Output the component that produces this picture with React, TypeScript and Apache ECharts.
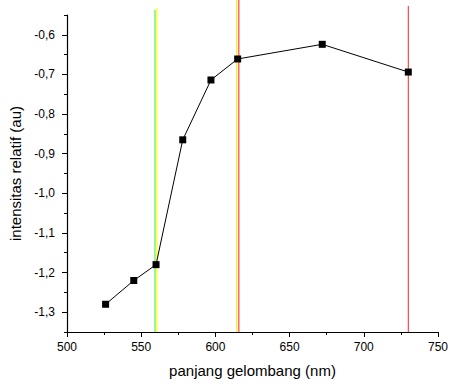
import React, { useEffect, useRef } from "react";
import * as echarts from "echarts";

const wavelengths = [526, 545, 560, 578, 597, 615, 672, 730];
const intensities = [-1.28, -1.22, -1.18, -0.865, -0.714, -0.661, -0.624, -0.694];

const xMajorTicks = [500, 550, 600, 650, 700, 750];
const xMinorTicks = [525, 575, 625, 675, 725];
const yMajorTicks = [-1.3, -1.2, -1.1, -1.0, -0.9, -0.8, -0.7, -0.6];
const yMinorTicks = [-1.35, -1.25, -1.15, -1.05, -0.95, -0.85, -0.75, -0.65, -0.55];

// vertical reference lines: [x, top y, colour]
const refLineX = [559.3, 560.6, 614.4, 615.8, 730];
const refLineTop = [-0.537, -0.532, -0.512, -0.512, -0.527];
const refLineColor = ["#44ee44", "#ffff00", "#ffee00", "#ff3333", "#ff3333"];

const X_MIN = 500, X_MAX = 750, Y_MIN = -1.35, Y_MAX = -0.55;
const FONT = "Liberation Sans, Arial, sans-serif";

export default function App() {
  const ref = useRef<HTMLDivElement>(null);
  useEffect(() => {
    if (!ref.current) return;
    const chart = echarts.init(ref.current, undefined, { renderer: "svg" });
    const fmt = (v: number) => v.toFixed(1).replace(".", ",");
    const refSeries = refLineX.map((x, i) => ({
      type: "line",
      data: [[x, Y_MIN], [x, refLineTop[i]]],
      symbol: "none",
      clip: false,
      silent: true,
      z: 1,
      lineStyle: { color: refLineColor[i], width: 1.1 },
    }));
    chart.setOption({
      animation: false,
      backgroundColor: "#ffffff",
      grid: { left: 66, right: 10, top: 15, bottom: 55 },
      xAxis: [
        {
          type: "value",
          min: X_MIN,
          max: X_MAX,
          name: "panjang gelombang (nm)",
          nameLocation: "middle",
          nameGap: 31,
          nameTextStyle: { fontFamily: FONT, fontSize: 15, color: "#000" },
          axisLine: { show: true, lineStyle: { color: "#000", width: 1.2 } },
          axisTick: { show: true, inside: false, length: 5, customValues: xMajorTicks, lineStyle: { color: "#000" } },
          axisLabel: { customValues: xMajorTicks, margin: 9, fontFamily: FONT, fontSize: 12, color: "#000" },
          splitLine: { show: false },
        },
        {
          type: "value",
          min: X_MIN,
          max: X_MAX,
          position: "bottom",
          axisLine: { show: false },
          axisTick: { show: true, inside: false, length: 3, customValues: xMinorTicks, lineStyle: { color: "#000" } },
          axisLabel: { show: false },
          splitLine: { show: false },
        },
      ],
      yAxis: [
        {
          type: "value",
          min: Y_MIN,
          max: Y_MAX,
          name: "intensitas relatif (au)",
          nameLocation: "middle",
          nameGap: 44,
          nameRotate: 90,
          nameTextStyle: { fontFamily: FONT, fontSize: 15, color: "#000" },
          axisLine: { show: true, lineStyle: { color: "#000", width: 1.2 } },
          axisTick: { show: true, inside: false, length: 5, customValues: yMajorTicks, lineStyle: { color: "#000" } },
          axisLabel: { customValues: yMajorTicks, margin: 12, formatter: fmt, fontFamily: FONT, fontSize: 12, color: "#000" },
          splitLine: { show: false },
        },
        {
          type: "value",
          min: Y_MIN,
          max: Y_MAX,
          position: "left",
          axisLine: { show: false },
          axisTick: { show: true, inside: false, length: 3, customValues: yMinorTicks, lineStyle: { color: "#000" } },
          axisLabel: { show: false },
          splitLine: { show: false },
        },
      ],
      series: [
        ...refSeries,
        {
          type: "line",
          data: wavelengths.map((w, i) => [w, intensities[i]]),
          symbol: "rect",
          symbolSize: 7,
          itemStyle: { color: "#000" },
          lineStyle: { color: "#000", width: 1 },
          z: 5,
        },
      ],
    });
    return () => chart.dispose();
  }, []);
  return (
    <div
      ref={ref}
      style={{ position: "fixed", left: 0, top: 0, width: 451, height: 387, background: "#fff" }}
    />
  );
}
